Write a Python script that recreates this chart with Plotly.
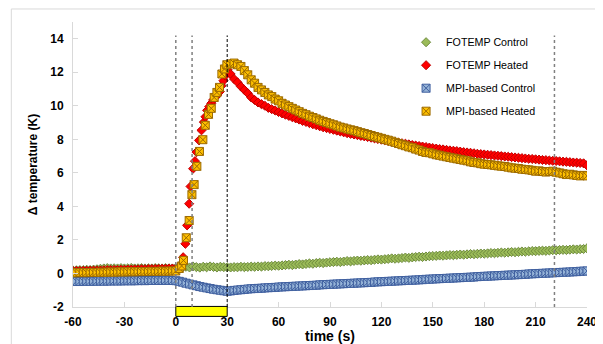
import plotly.graph_objects as go

# ---------------- data ----------------
t_ctrl = list(range(-60, 241, 2))

fotemp_control = [
    0.18, 0.19, 0.20, 0.20, 0.22, 0.21, 0.23, 0.25, 0.28, 0.30,
    0.32, 0.30, 0.31, 0.30, 0.32, 0.30, 0.31, 0.33, 0.30, 0.31,
    0.32, 0.30, 0.31, 0.30, 0.32, 0.31, 0.30, 0.32, 0.31, 0.30,
    0.31,
    0.33, 0.38, 0.40, 0.36, 0.42, 0.38, 0.35, 0.40, 0.37, 0.42, 0.39, 0.36, 0.40, 0.38, 0.37,
    0.36, 0.38, 0.37, 0.40, 0.38, 0.39, 0.41, 0.40, 0.42, 0.41, 0.44, 0.43, 0.45, 0.47, 0.46,
    0.48, 0.50, 0.52, 0.50, 0.53, 0.56, 0.54, 0.57, 0.60, 0.58, 0.62, 0.64, 0.62, 0.65, 0.67,
    0.68, 0.70, 0.68, 0.71, 0.74, 0.72, 0.75, 0.77, 0.76, 0.78, 0.80, 0.79, 0.82, 0.84, 0.83,
    0.85, 0.87, 0.90, 0.88, 0.90, 0.92, 0.95, 0.93, 0.96, 0.98, 1.00, 0.98, 1.01, 1.03, 1.04,
    1.05, 1.07, 1.06, 1.08, 1.10, 1.09, 1.11, 1.13, 1.12, 1.14, 1.16, 1.15, 1.17, 1.19, 1.18,
    1.20, 1.22, 1.21, 1.23, 1.25, 1.24, 1.26, 1.28, 1.27, 1.29, 1.31, 1.30, 1.32, 1.34, 1.33,
    1.35, 1.36, 1.35, 1.37, 1.39, 1.38, 1.40, 1.41, 1.40, 1.42, 1.44, 1.43, 1.45, 1.46, 1.50,
]

mpi_control = [
    -0.48, -0.47, -0.48, -0.47, -0.46, -0.47, -0.46, -0.46, -0.45, -0.46,
    -0.45, -0.45, -0.44, -0.45, -0.44, -0.44, -0.43, -0.44, -0.43, -0.43,
    -0.42, -0.43, -0.42, -0.42, -0.42, -0.41, -0.42, -0.41, -0.41, -0.42,
    -0.43,
    -0.47, -0.52, -0.58, -0.63, -0.68, -0.73, -0.78, -0.82, -0.86, -0.90, -0.94, -0.97, -1.00, -1.03, -1.06,
    -1.04, -1.01, -0.99, -0.97, -0.95, -0.93, -0.91, -0.90, -0.89, -0.88, -0.86, -0.85, -0.84, -0.83, -0.81,
    -0.80, -0.79, -0.78, -0.77, -0.76, -0.75, -0.74, -0.73, -0.72, -0.71, -0.70, -0.68, -0.67, -0.66, -0.65,
    -0.64, -0.63, -0.62, -0.61, -0.60, -0.59, -0.58, -0.57, -0.56, -0.55, -0.54, -0.53, -0.51, -0.50, -0.49,
    -0.48, -0.47, -0.46, -0.45, -0.44, -0.43, -0.42, -0.41, -0.40, -0.39, -0.38, -0.37, -0.35, -0.34, -0.33,
    -0.32, -0.31, -0.30, -0.29, -0.28, -0.27, -0.26, -0.25, -0.24, -0.23, -0.22, -0.21, -0.19, -0.18, -0.17,
    -0.16, -0.15, -0.14, -0.13, -0.12, -0.11, -0.10, -0.09, -0.08, -0.07, -0.06, -0.05, -0.03, -0.02, -0.01,
    0.00, 0.01, 0.02, 0.03, 0.04, 0.05, 0.06, 0.07, 0.08, 0.09, 0.10, 0.11, 0.13, 0.14, 0.15,
]

t_pre = list(range(-60, 3, 2))
t_post = list(range(32, 241, 2))

fotemp_heated_pre = [
    0.14, 0.15, 0.15, 0.16, 0.16, 0.17, 0.17, 0.18, 0.18, 0.19,
    0.20, 0.20, 0.21, 0.21, 0.22, 0.22, 0.23, 0.23, 0.24, 0.24,
    0.25, 0.25, 0.26, 0.26, 0.27, 0.27, 0.28, 0.28, 0.29, 0.29,
    0.30, 0.32,
]
t_fotemp_rise = [3.2, 4.3, 5.6, 6.6, 7.8, 8.6, 10.1, 11.2, 12.1, 13.6, 15.0, 16.4,
                 17.3, 18.3, 19.5, 20.7, 21.8, 23.0, 24.2, 25.7, 26.7, 27.8, 28.9, 30.2]
fotemp_heated_rise = [0.55, 0.97, 1.77, 2.87, 4.16, 5.19, 6.25, 6.70, 7.24, 7.94, 8.54, 9.03,
                      9.35, 9.73, 9.95, 10.15, 10.35, 10.50, 10.65, 10.85, 11.20, 11.50, 11.80, 12.15]
fotemp_heated_post = [
    11.90, 11.60, 11.40, 11.15, 10.95, 10.75, 10.50, 10.35, 10.20, 10.10,
    10.00, 9.88, 9.80, 9.72, 9.63, 9.55, 9.47, 9.40, 9.32, 9.25,
    9.18, 9.10, 9.04, 8.97, 8.90, 8.84, 8.78, 8.72, 8.67, 8.62,
    8.57, 8.52, 8.47, 8.42, 8.37, 8.33, 8.29, 8.25, 8.21, 8.18,
    8.14, 8.10, 8.06, 8.02, 7.98, 7.94, 7.90, 7.86, 7.83, 7.80,
    7.77, 7.74, 7.70, 7.66, 7.63, 7.60, 7.57, 7.54, 7.51, 7.48,
    7.45, 7.42, 7.40, 7.37, 7.34, 7.32, 7.30, 7.27, 7.24, 7.22,
    7.20, 7.17, 7.14, 7.12, 7.10, 7.08, 7.06, 7.04, 7.02, 7.00,
    6.98, 6.96, 6.94, 6.92, 6.90, 6.88, 6.86, 6.84, 6.83, 6.81,
    6.79, 6.77, 6.76, 6.74, 6.72, 6.71, 6.69, 6.67, 6.66, 6.64,
    6.62, 6.61, 6.59, 6.57, 6.45,
]

mpi_heated_pre = [
    0.05, 0.04, 0.06, 0.05, 0.05, 0.06, 0.07, 0.06, 0.08, 0.07,
    0.08, 0.09, 0.08, 0.09, 0.10, 0.09, 0.10, 0.11, 0.10, 0.11,
    0.12, 0.11, 0.12, 0.13, 0.12, 0.13, 0.14, 0.13, 0.14, 0.15,
    0.15, 0.30,
]
t_mpi_rise = [3.4, 4.5, 6.1, 7.8, 9.4, 10.7, 12.3, 13.8, 15.8, 17.2, 19.1, 20.7,
              22.4, 24.0, 25.5, 26.9, 28.4, 29.8]
mpi_heated_rise = [0.45, 0.78, 2.13, 3.16, 4.70, 5.30, 6.39, 7.28, 7.98, 8.84, 9.49, 9.85,
                   10.50, 10.80, 11.10, 11.90, 12.20, 12.45]
mpi_heated_post = [
    12.50, 12.55, 12.45, 12.35, 12.10, 11.85, 11.55, 11.35, 11.10, 10.95,
    10.80, 10.65, 10.55, 10.40, 10.30, 10.15, 10.05, 9.95, 9.85, 9.75,
    9.65, 9.55, 9.47, 9.38, 9.30, 9.22, 9.14, 9.07, 9.00, 8.93,
    8.87, 8.80, 8.73, 8.68, 8.62, 8.57, 8.52, 8.46, 8.40, 8.35,
    8.29, 8.23, 8.17, 8.12, 8.06, 8.00, 7.95, 7.89, 7.82, 7.75,
    7.68, 7.62, 7.55, 7.50, 7.42, 7.36, 7.28, 7.22, 7.20, 7.14,
    7.08, 7.05, 7.00, 6.96, 6.92, 6.88, 6.84, 6.80, 6.76, 6.72,
    6.66, 6.62, 6.60, 6.55, 6.52, 6.50, 6.48, 6.45, 6.42, 6.40,
    6.38, 6.34, 6.30, 6.28, 6.26, 6.22, 6.20, 6.18, 6.15, 6.10,
    6.12, 6.08, 6.05, 6.08, 6.10, 6.04, 6.00, 5.95, 5.90, 5.92,
    5.88, 5.85, 5.82, 5.85, 5.82,
]

heating_window = [0, 30]
marker_lines = [0, 9.5, 30, 221]

x_ticks = [-60, -30, 0, 30, 60, 90, 120, 150, 180, 210, 240]
x_tick_labels = ["-60", "-30", "0", "30", "60", "90", "120", "150", "180", "210", "240"]
y_ticks = [-2, 0, 2, 4, 6, 8, 10, 12, 14]
y_tick_labels = ["-2", "0", "2", "4", "6", "8", "10", "12", "14"]

assert len(fotemp_control) == len(t_ctrl) and len(mpi_control) == len(t_ctrl)
assert len(fotemp_heated_pre) == len(t_pre) and len(mpi_heated_pre) == len(t_pre)
assert len(fotemp_heated_post) == len(t_post) and len(mpi_heated_post) == len(t_post)
assert len(t_fotemp_rise) == len(fotemp_heated_rise) and len(t_mpi_rise) == len(mpi_heated_rise)

# ---------------- figure ----------------
fig = go.Figure()

fig.add_trace(go.Scatter(
    x=t_ctrl, y=fotemp_control, mode="markers", name="FOTEMP Control", legendgroup="a",
    marker=dict(symbol="diamond", size=7, color="#9BBB59", line=dict(color="#6E8B3D", width=1)),
))
fig.add_trace(go.Scatter(
    x=t_pre + t_fotemp_rise + t_post,
    y=fotemp_heated_pre + fotemp_heated_rise + fotemp_heated_post,
    mode="markers", name="FOTEMP Heated", legendgroup="b",
    marker=dict(symbol="diamond", size=7, color="#FF0000", line=dict(color="#C00000", width=1)),
))
fig.add_trace(go.Scatter(
    x=t_ctrl, y=mpi_control, mode="markers", name="MPI-based Control", legendgroup="c",
    marker=dict(symbol="square-x", size=8, color="#95B3D7", line=dict(color="#3F5F9F", width=1)),
))
fig.add_trace(go.Scatter(
    x=t_pre + t_mpi_rise + t_post,
    y=mpi_heated_pre + mpi_heated_rise + mpi_heated_post,
    mode="markers", name="MPI-based Heated", legendgroup="d",
    marker=dict(symbol="square-x", size=8, color="#FFC000", line=dict(color="#9C6A00", width=1)),
))

shapes = []
# outer chart border
shapes.append(dict(type="rect", xref="paper", yref="paper", x0=-0.12, x1=1.1, y0=-0.3, y1=1.0457,
                   line=dict(color="#D9D9D9", width=1), fillcolor="rgba(0,0,0,0)", layer="below"))
# heating bar
shapes.append(dict(type="rect", xref="x", yref="paper", x0=heating_window[0], x1=heating_window[1],
                   y0=-0.033, y1=0.002, line=dict(color="black", width=1), fillcolor="#FFFF00",
                   layer="above"))
for xv in marker_lines:
    if xv == 30:
        ln = dict(color="black", width=1, dash="3px,2px")
    else:
        ln = dict(color="#808080", width=1.5, dash="dot")
    shapes.append(dict(type="line", xref="x", yref="y", x0=xv, x1=xv, y0=-2, y1=14.2,
                       line=ln, layer="above"))

# page body has an 8px default margin, so the figure is sized/offset to compensate
fig.update_layout(
    width=595, height=336,
    margin=dict(l=65, r=16, t=14, b=37, autoexpand=False),
    paper_bgcolor="white", plot_bgcolor="white",
    font=dict(family="Liberation Sans, Arial, sans-serif", color="black"),
    shapes=shapes,
    showlegend=True,
    legend=dict(x=0.648, y=0.98, xanchor="left", yanchor="top", bgcolor="rgba(0,0,0,0)",
                font=dict(size=10.7, color="black"), traceorder="grouped", tracegroupgap=4,
                itemwidth=30),
    xaxis=dict(range=[-60, 240], tickvals=x_ticks, ticktext=x_tick_labels,
               showgrid=False, zeroline=False,
               showline=True, linecolor="#D9D9D9", linewidth=1,
               ticks="inside", ticklen=5, tickcolor="#D9D9D9",
               tickfont=dict(size=12, weight="bold"), ticklabelstandoff=4,
               title=dict(text="time (s)", font=dict(size=14, weight="bold"), standoff=1)),
    yaxis=dict(range=[-2, 15], tickvals=y_ticks, ticktext=y_tick_labels,
               showgrid=False, zeroline=False,
               showline=True, linecolor="#D9D9D9", linewidth=1,
               ticks="inside", ticklen=5, tickcolor="#D9D9D9",
               tickfont=dict(size=12, weight="bold"), ticklabelstandoff=6,
               title=dict(text="Δ temperature (K)", font=dict(size=12, weight="bold"), standoff=10)),
)

fig.write_html("out.html")
